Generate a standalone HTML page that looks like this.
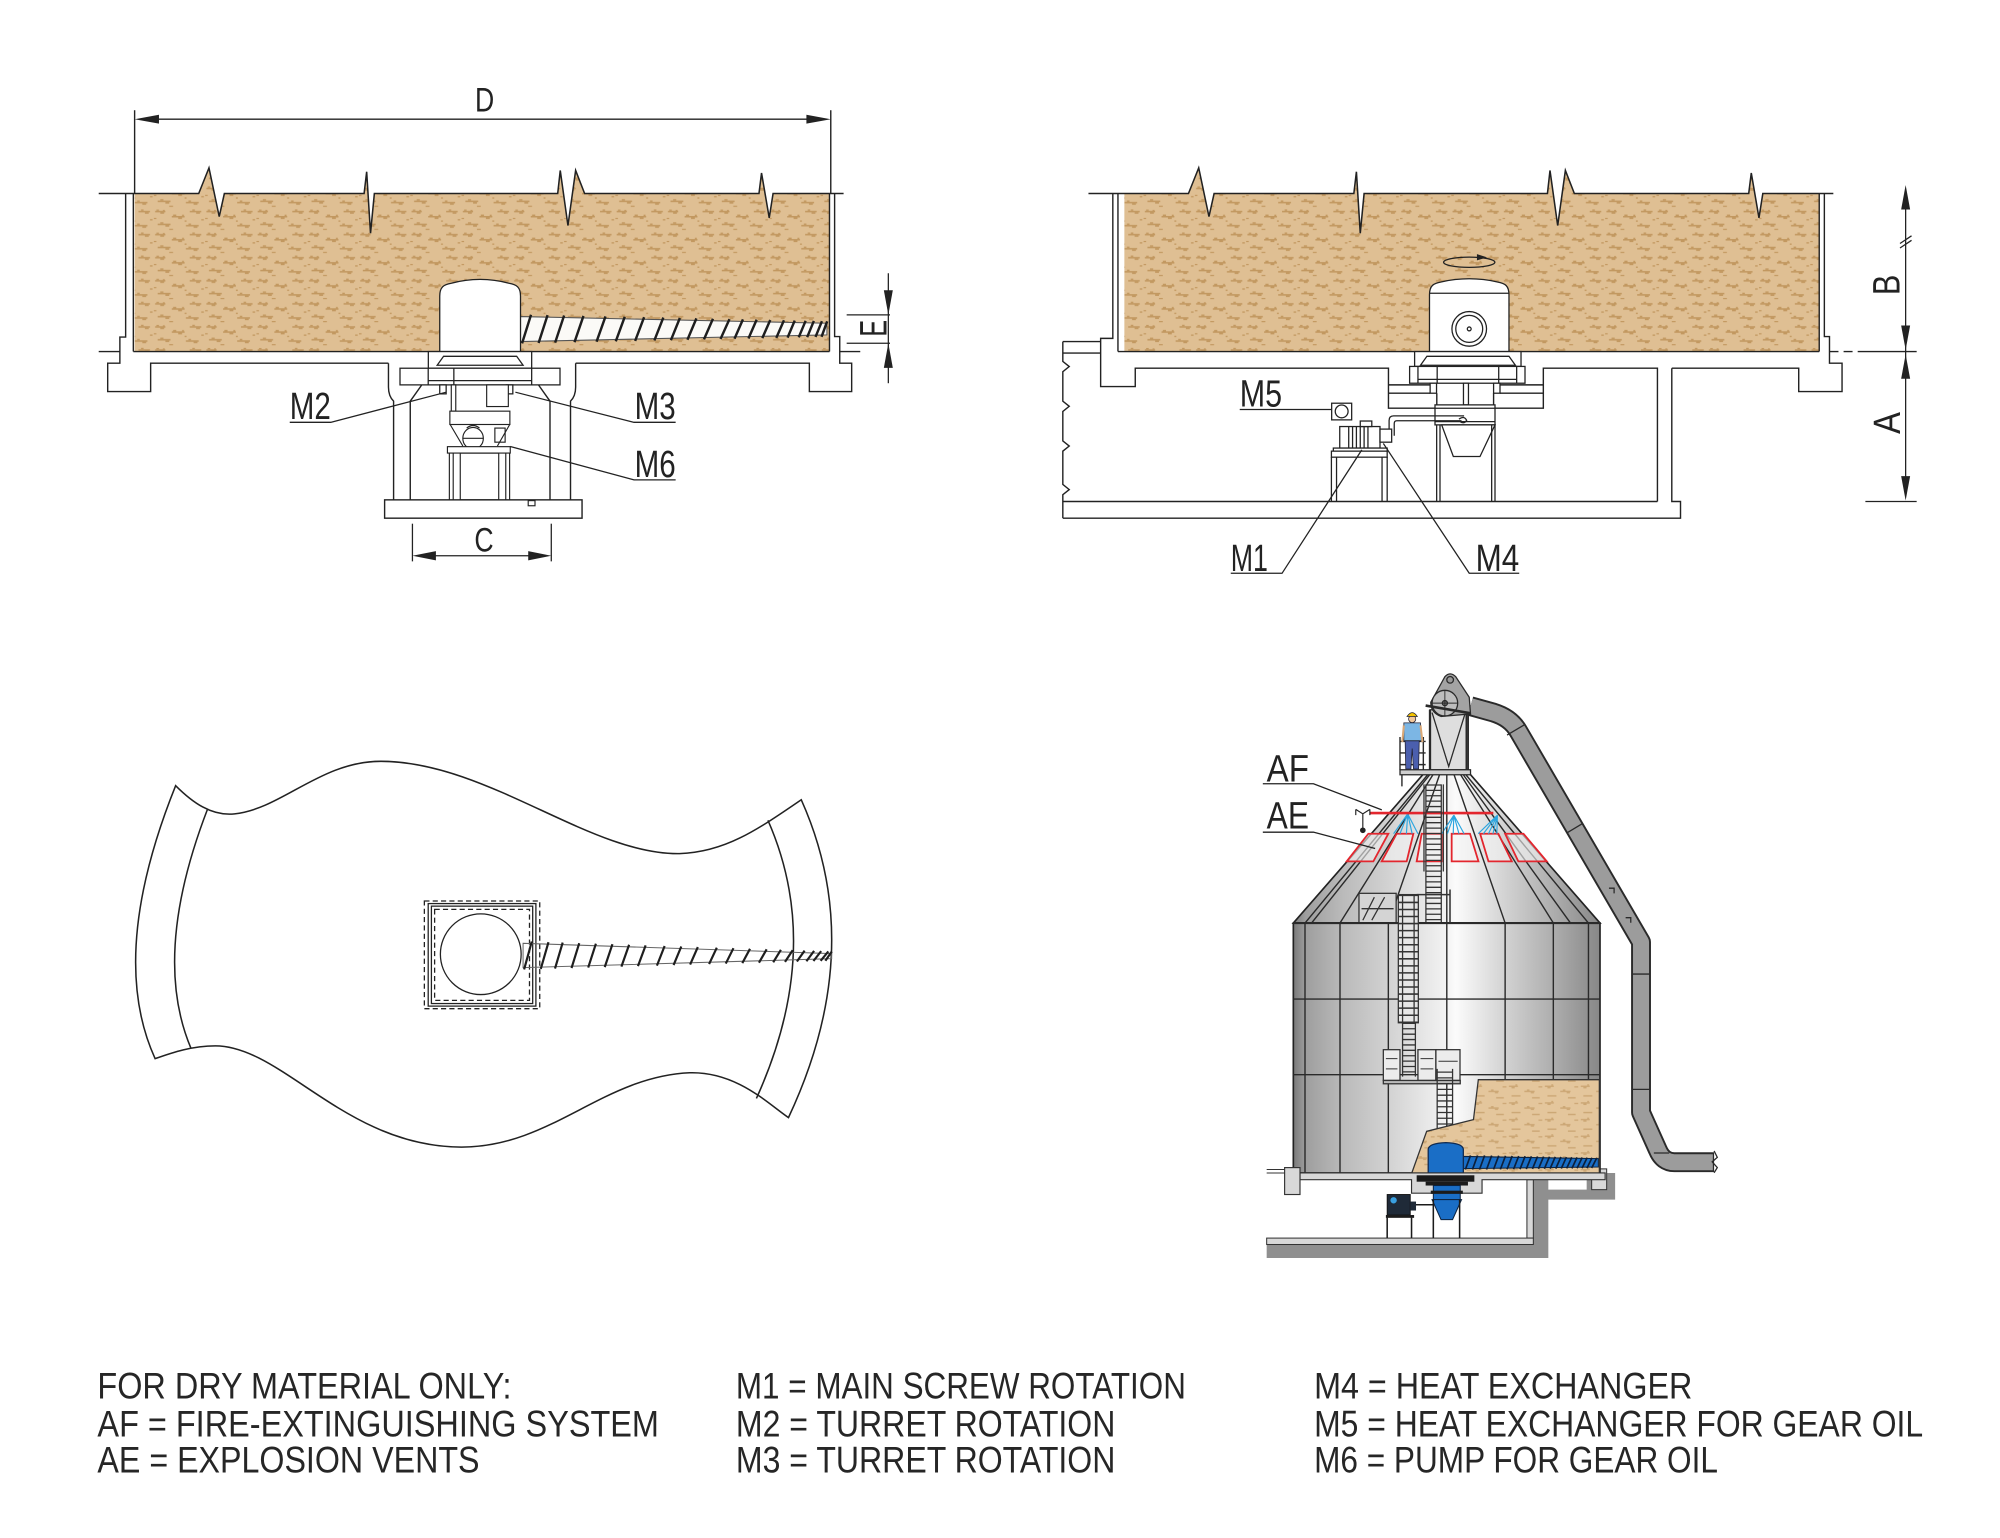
<!DOCTYPE html>
<html><head><meta charset="utf-8"><title>Silo discharge diagram</title>
<style>
html,body{margin:0;padding:0;background:#fff;width:2000px;height:1538px;overflow:hidden}
svg{display:block}
</style></head><body>
<svg xmlns="http://www.w3.org/2000/svg" width="2000" height="1538" viewBox="0 0 1560 1200" preserveAspectRatio="none" font-family="'Liberation Sans', Arial, sans-serif">
<defs>
 <pattern id="mat" width="40" height="18" patternUnits="userSpaceOnUse">
  <rect width="40" height="18" fill="#dfbf93"/>
  <g fill="#c29860">
   <rect x="1" y="2.5" width="8" height="1.2"/><rect x="2" y="1.5" width="2" height="1"/><rect x="5" y="3.5" width="3" height="1.3"/><rect x="7" y="1.8" width="1.5" height="1"/>
   <rect x="14" y="6.5" width="10" height="1.2"/><rect x="15" y="5.4" width="2.5" height="1.2"/><rect x="19" y="7.6" width="3" height="1.3"/><rect x="22" y="5.5" width="1.5" height="1"/>
   <rect x="28" y="2.5" width="9" height="1.2"/><rect x="30" y="1.4" width="2" height="1.1"/><rect x="33" y="3.6" width="3" height="1.2"/>
   <rect x="3" y="12.5" width="10" height="1.2"/><rect x="5" y="11.4" width="2.5" height="1.1"/><rect x="9" y="13.6" width="3" height="1.3"/>
   <rect x="25" y="13.5" width="10" height="1.2"/><rect x="27" y="12.4" width="2" height="1.1"/><rect x="31" y="14.6" width="3" height="1.2"/>
   <rect x="37" y="9" width="2" height="1"/><rect x="12" y="16.5" width="3" height="0.9"/><rect x="0" y="8" width="2" height="0.9"/><rect x="24" y="10" width="1.5" height="1"/>
  </g>
 </pattern>
 <pattern id="mat2" width="28" height="13" patternUnits="userSpaceOnUse">
  <rect width="28" height="13" fill="#e4c69c"/>
  <g fill="#cca775">
   <rect x="1" y="2" width="7" height="1.1"/><rect x="3" y="3" width="2.5" height="1.2"/><rect x="6" y="1" width="1.5" height="1"/>
   <rect x="13" y="6" width="8" height="1.1"/><rect x="15" y="5" width="2" height="1.1"/><rect x="18" y="7" width="2.5" height="1.1"/>
   <rect x="3" y="9.5" width="7" height="1.1"/><rect x="19" y="11" width="6" height="1.1"/><rect x="24" y="2.5" width="3" height="1"/>
  </g>
 </pattern>
 <linearGradient id="cyl" gradientUnits="userSpaceOnUse" x1="1008.8" y1="0" x2="1248" y2="0">
  <stop offset="0" stop-color="#7a7a7a"/>
  <stop offset="0.04" stop-color="#9e9e9e"/>
  <stop offset="0.16" stop-color="#bababa"/>
  <stop offset="0.31" stop-color="#d2d2d2"/>
  <stop offset="0.5" stop-color="#f3f3f3"/>
  <stop offset="0.53" stop-color="#fbfbfb"/>
  <stop offset="0.7" stop-color="#d0d0d0"/>
  <stop offset="0.85" stop-color="#adadad"/>
  <stop offset="1" stop-color="#878787"/>
 </linearGradient>
</defs>
<rect width="1560" height="1200" fill="#fff"/>

<!-- ================= TOP LEFT ================= -->
<g id="topmat">
 <path d="M105,151 L155,151 L163,131 L171,169 L175,151 L284,151 L286,134 L289,182 L292,151 L435,151 L437,133 L443,176 L449,133 L456,151 L592,151 L594,135 L600,170 L603,151 L647,151 L647,274.3 L105,274.3 Z" fill="url(#mat)"/>
 <path d="M77,151 L155,151 L163,131 L171,169 L175,151 L284,151 L286,134 L289,182 L292,151 L435,151 L437,133 L443,176 L449,133 L456,151 L592,151 L594,135 L600,170 L603,151 L658,151" fill="none" stroke="#222" stroke-width="1.2"/>
</g>
<g transform="translate(772,0)">
 <path d="M105,151 L155,151 L163,131 L171,169 L175,151 L284,151 L286,134 L289,182 L292,151 L435,151 L437,133 L443,176 L449,133 L456,151 L592,151 L594,135 L600,170 L603,151 L647,151 L647,274.3 L105,274.3 Z" fill="url(#mat)"/>
 <path d="M77,151 L155,151 L163,131 L171,169 L175,151 L284,151 L286,134 L289,182 L292,151 L435,151 L437,133 L443,176 L449,133 L456,151 L592,151 L594,135 L600,170 L603,151 L658,151" fill="none" stroke="#222" stroke-width="1.2"/>
</g>

<g fill="none" stroke="#222" stroke-width="1.1">
 <line x1="105" y1="86" x2="105" y2="151"/>
 <line x1="648" y1="86" x2="648" y2="151"/>
 <line x1="110" y1="93" x2="643" y2="93"/>
 <path d="M98,151 V263 H93.5 V283.4 H84 V305.5 H117.5 V283.4 H303"/>
 <line x1="104" y1="151" x2="104" y2="274.3"/>
 <line x1="77" y1="274.3" x2="93.5" y2="274.3"/>
 <line x1="104" y1="274.3" x2="647" y2="274.3"/>
 <line x1="647" y1="151" x2="647" y2="274.3"/>
 <path d="M651,151 V262.6 H655 V283.4 H664.3 V305.5 H631.3 V283.4 H449"/>
 <line x1="655" y1="274.3" x2="671" y2="274.3"/>
 <path d="M303,283.4 V302 Q303,309 307,313 V390"/>
 <path d="M449,283.4 V302 Q449,309 445,313 V390"/>
 <path d="M329,300.3 L320,313 V390"/>
 <path d="M420,300.3 L429,313 V390"/>
 <rect x="300" y="390" width="154" height="14.3" fill="#fff"/>
</g>
<g fill="#222">
 <path d="M105,93 L124,89.5 L124,96.5 Z"/>
 <path d="M648,93 L629,89.5 L629,96.5 Z"/>
</g>
<text x="378" y="87" font-size="27" text-anchor="middle" fill="#222" textLength="15" lengthAdjust="spacingAndGlyphs">D</text>

<!-- screw top-left -->
<path d="M406,247 L645,252.2 L645,261.3 L406,266.5 Z" fill="#fbfaf7" stroke="#555" stroke-width="0.8"/>
<path d="M407.2,267.9 L414.2,245.6 M420.1,267.6 L427.1,245.9 M433,267.3 L440,246.2 M448.1,267 L455.1,246.5 M465.3,266.6 L472.3,246.9 M480.3,266.3 L487.3,247.2 M495.4,266 L502.4,247.5 M510.4,265.6 L517.4,247.8 M523.3,265.4 L530.3,248.1 M536.2,265.1 L543.2,248.4 M549.1,264.8 L556.1,248.7 M562,264.5 L569,249 M572.9,264.3 L579.5,249.2 M583.8,264.1 L590.2,249.4 M594.6,263.8 L600.8,249.7 M605.5,263.6 L611.5,249.9 M614.3,263.4 L619.9,250.1 M623,263.2 L628.4,250.3 M629.6,263.1 L634.8,250.4 M636.1,262.9 L641.1,250.6 M640.8,262.8 L645.2,250.7" fill="none" stroke="#1e1e1e" stroke-width="1.9"/>

<!-- turret top-left -->
<g stroke="#222" stroke-width="1" fill="#fff">
 <path d="M343,274.3 V231 C343,224 346,222 352,221 Q374.5,215 397,221 C403,222 406,224 406,231 V274.3 Z"/>
 <rect x="334.1" y="274.3" width="80.6" height="13"/>
 <path d="M346,278 H403 L408,285 H341 Z"/>
 <rect x="312" y="287.3" width="124.8" height="13"/>
 <path d="M334,287.3 V300.3 M354,287.3 V300.3 M414.7,287.3 V300.3 M334,297 H415" fill="none"/>
 <rect x="343" y="300.3" width="5" height="7"/>
 <rect x="395" y="300.3" width="5" height="7"/>
</g>
<g stroke="#222" stroke-width="0.9" fill="none">
 <rect x="352" y="300.3" width="3.5" height="20.5" fill="#fff"/>
 <rect x="379.6" y="300.3" width="16.9" height="16.9" fill="#fff"/>
 <rect x="350.9" y="320.8" width="46.8" height="10.4" fill="#fff"/>
 <path d="M351,331 L361,348 M397.7,331 L388,348"/>
 <ellipse cx="369" cy="342" rx="8" ry="8.5" fill="#fff"/>
 <line x1="361" y1="342" x2="377" y2="342"/>
 <path d="M364,334 Q369,330 374,334"/>
 <rect x="386" y="334" width="8" height="11"/>
 <rect x="349" y="348.5" width="49" height="5" fill="#fff"/>
 <line x1="350.5" y1="353.5" x2="350.5" y2="390"/>
 <line x1="353.5" y1="353.5" x2="353.5" y2="390"/>
 <line x1="394.5" y1="353.5" x2="394.5" y2="390"/>
 <line x1="397.5" y1="353.5" x2="397.5" y2="390"/>
 <rect x="359" y="353.5" width="30" height="36.5"/>
 <rect x="412" y="390.6" width="5.3" height="4"/>
</g>

<g fill="none" stroke="#222" stroke-width="1">
 <path d="M226,329.5 H258 L348,306"/>
 <path d="M527,329.5 H494.5 L402,306"/>
 <path d="M527,374.4 H494.5 L398,348.4"/>
</g>
<g fill="#222" font-size="29.5">
 <text x="226" y="327" textLength="32" lengthAdjust="spacingAndGlyphs">M2</text>
 <text x="495" y="327" textLength="32" lengthAdjust="spacingAndGlyphs">M3</text>
 <text x="495" y="372" textLength="32" lengthAdjust="spacingAndGlyphs">M6</text>
</g>

<g stroke="#222" stroke-width="1" fill="none">
 <line x1="321.7" y1="408.6" x2="321.7" y2="438"/>
 <line x1="430" y1="408.6" x2="430" y2="438"/>
 <line x1="326" y1="433.6" x2="426" y2="433.6"/>
</g>
<g fill="#222">
 <path d="M321.7,433.6 L340,430 L340,437.2 Z"/>
 <path d="M430,433.6 L412,430 L412,437.2 Z"/>
</g>
<text x="377.5" y="430.4" font-size="27" text-anchor="middle" fill="#222" textLength="15" lengthAdjust="spacingAndGlyphs">C</text>

<g stroke="#222" stroke-width="1" fill="none">
 <line x1="692.9" y1="213.2" x2="692.9" y2="299"/>
 <line x1="660.4" y1="245.7" x2="694.2" y2="245.7"/>
 <line x1="660.4" y1="267.8" x2="694.2" y2="267.8"/>
</g>
<g fill="#222">
 <path d="M692.9,245.7 L689.4,226.5 L696.4,226.5 Z"/>
 <path d="M692.9,267.8 L689.4,287 L696.4,287 Z"/>
</g>
<text transform="translate(691.6,256.1) rotate(-90)" font-size="29.5" text-anchor="middle" fill="#222" textLength="13" lengthAdjust="spacingAndGlyphs">E</text>

<!-- ================= TOP RIGHT ================= -->
<g fill="none" stroke="#222" stroke-width="1.1">
 <line x1="872" y1="151" x2="872" y2="274.3"/>
 <path d="M868,151 V264 H858.5 V301.6 H885.5 V287.3 H1083 V318.5 H1120.7"/>
 <path d="M1165,318.5 H1203.8 V287.3 H1292.8 V391.3"/>
 <path d="M1304,287.3 V391.3 H1310.8 V404.3 H829"/>
 <line x1="829" y1="391.3" x2="1292.8" y2="391.3"/>
 <path d="M829,266.5 H858.5 M829,275.5 H858.5"/>
 <path d="M829,266.5 V282 L834,286 L829,290 V313 L834,317 L829,321 V344 L834,348 L829,352 V378 L834,382 L829,386 V404.3"/>
 <line x1="872" y1="274.3" x2="1419" y2="274.3"/>
 <line x1="1419" y1="151" x2="1419" y2="274.3"/>
 <path d="M1423,151 V262.6 H1427 V283.4 H1436.8 V305.5 H1403 V287.3 H1304"/>
 <line x1="1427" y1="274.3" x2="1450" y2="274.3" stroke-dasharray="7 4"/>
 <path d="M1083,300.3 H1115.5 M1083,306.8 H1115.5 M1170,300.3 H1203.8 M1170,306.8 H1203.8 M1120.7,306.8 V318.5 M1165,306.8 V318.5"/>
</g>

<g stroke="#222" stroke-width="1" fill="#fff">
 <path d="M1115,274.3 V230 C1115,223 1118,221 1124,220 Q1146,215 1168,220 C1174,221 1177,223 1177,230 V274.3 Z"/>
 <line x1="1115" y1="228.8" x2="1177" y2="228.8"/>
 <circle cx="1146" cy="256.6" r="13.5"/>
 <circle cx="1146" cy="256.6" r="10.5"/>
 <circle cx="1146" cy="256.6" r="1.5"/>
 <rect x="1103.4" y="274.3" width="83" height="11.6"/>
 <path d="M1113,278 H1177 L1182,285 H1108 Z"/>
 <rect x="1099.5" y="285.9" width="90" height="13.1"/>
 <path d="M1106,285.9 V299 M1121,285.9 V299 M1169,285.9 V299 M1183,285.9 V299 M1106,296 H1183" fill="none"/>
 <rect x="1115.5" y="299" width="5" height="7.8"/>
 <rect x="1165" y="299" width="5" height="7.8"/>
 <rect x="1141.5" y="299" width="3.9" height="16.9"/>
 <rect x="1119.3" y="315.9" width="46.8" height="15.6"/>
 <path d="M1119.3,318.5 H1166.1 M1119.3,329 H1166.1" fill="none"/>
 <path d="M1124.5,331.5 H1166.1 L1154.4,356.2 H1133.6 Z"/>
</g>
<ellipse cx="1146" cy="204.6" rx="20" ry="4" fill="none" stroke="#222" stroke-width="1"/>
<path d="M1152,198.3 L1160,200.8 L1152,203.2 Z" fill="#222"/>
<g stroke="#222" stroke-width="1" fill="none">
 <path d="M1120.6,331.5 V391.3 M1123.2,331.5 V391.3 M1163.5,331.5 V391.3 M1166.1,331.5 V391.3"/>
 <path d="M1083.5,340 V328 Q1083.5,324.5 1087,324.5 H1142 M1087.5,340 V330.5 Q1087.5,328.3 1089.5,328.3 H1140"/>
 <path d="M1138,327 q4,-3 6,1 q-2,3 -5,1"/>
 <rect x="1038.7" y="314.6" width="15.6" height="13" fill="#fff"/>
 <circle cx="1046.5" cy="321" r="5"/>
 <rect x="1045" y="332.8" width="31.4" height="16.8" fill="#fff"/>
 <path d="M1052,333 V349.6 M1055,333 V349.6 M1058,333 V349.6 M1061,333 V349.6 M1064,333 V349.6 M1067,333 V349.6"/>
 <rect x="1061" y="328.5" width="9" height="4.3" fill="#fff"/>
 <rect x="1076.4" y="334.8" width="9.1" height="10.2" fill="#fff"/>
 <rect x="1040" y="349.6" width="42" height="2.4" fill="#fff"/>
 <rect x="1038.5" y="352" width="43.5" height="4.7" fill="#fff"/>
 <path d="M1038.5,356.7 V391.3 M1042.5,356.7 V391.3 M1078,356.7 V391.3 M1082,356.7 V391.3"/>
 <path d="M967,319.5 H1038.7"/>
 <path d="M960,447.3 H1000 L1062.2,351"/>
 <path d="M1185,447.3 H1146 L1079,346"/>
</g>
<g fill="#222" font-size="29.5">
 <text x="967" y="317" textLength="33" lengthAdjust="spacingAndGlyphs">M5</text>
 <text x="960" y="445.5" textLength="29" lengthAdjust="spacingAndGlyphs">M1</text>
 <text x="1151" y="445.5" textLength="34" lengthAdjust="spacingAndGlyphs">M4</text>
</g>

<g stroke="#222" stroke-width="1" fill="none">
 <line x1="1486.4" y1="148" x2="1486.4" y2="386"/>
 <line x1="1455" y1="391.3" x2="1495" y2="391.3"/>
 <line x1="1450" y1="274.3" x2="1495" y2="274.3"/>
 <path d="M1482,190 L1491,184 M1482,193.5 L1491,187.5"/>
</g>
<g fill="#222">
 <path d="M1486.4,144.3 L1482.9,163.5 L1489.9,163.5 Z"/>
 <path d="M1486.4,273 L1482.9,254 L1489.9,254 Z"/>
 <path d="M1486.4,276.5 L1482.9,295.5 L1489.9,295.5 Z"/>
 <path d="M1486.4,390.5 L1482.9,371.5 L1489.9,371.5 Z"/>
</g>
<text transform="translate(1481.6,222.3) rotate(-90)" font-size="29.5" text-anchor="middle" fill="#222" textLength="16" lengthAdjust="spacingAndGlyphs">B</text>
<text transform="translate(1482,330) rotate(-90)" font-size="29.5" text-anchor="middle" fill="#222" textLength="17" lengthAdjust="spacingAndGlyphs">A</text>

<!-- ================= BOTTOM LEFT PLAN ================= -->
<g fill="none" stroke="#222" stroke-width="1.2">
 <path d="M137,613 C150,626 165,637 183,635 C220,631 250,594 297,594 C380,594 460,667 530,666 C565,665 590,648 625,624 Q677,740 615,872 C600,862 575,836 538,837 C470,840 430,895 360,895 C270,895 220,816 168,816 C150,816 135,821 121,826 Q84,745 137,613 Z"/>
 <path d="M162,631 Q118,745 149,818"/>
 <path d="M599,640 Q643,740 590,857"/>
</g>
<g fill="none" stroke="#222" stroke-width="1">
 <rect x="331" y="703" width="90" height="84" stroke-dasharray="4 2.5"/>
 <rect x="334" y="705" width="84" height="80"/>
 <rect x="336.5" y="707" width="79" height="76"/>
 <rect x="339" y="709.5" width="74" height="71" stroke-dasharray="4 2.5"/>
 <circle cx="375" cy="744.5" r="31.5"/>
 <path d="M408,736 L648.7,744 L648.7,748 L408,755 Z" stroke="#666" stroke-width="0.8"/>
</g>
<path d="M408.8,756.4 L414.8,734.6 M421.8,756 L427.8,735.1 M432.9,755.7 L438.9,735.4 M445.8,755.3 L451.8,735.9 M458.8,754.9 L464.8,736.3 M471.7,754.6 L477.7,736.7 M484.7,754.2 L490.7,737.1 M497.6,753.8 L503.6,737.6 M512.4,753.4 L518.4,738.1 M525.4,753 L531.4,738.5 M538.3,752.6 L544.3,738.9 M553.1,752.2 L559.1,739.4 M566.1,751.8 L572.1,739.8 M579,751.5 L585,740.3 M592,751.1 L598,740.7 M603.1,750.8 L609.1,741.1 M612.3,750.5 L618.3,741.4 M621.6,750.2 L627.6,741.7 M629,750 L635,741.9 M634.5,749.8 L640.5,742.1 M640.1,749.7 L646.1,742.3 M643.8,749.6 L648.8,742.4" fill="none" stroke="#1e1e1e" stroke-width="1.7"/>

<!-- ================= SILO ================= -->
<path d="M988,971 H1196 V920.4 H1207.7 V928.2 H1237.6 V915.2 H1259.8 V936 H1207.7 V981.5 H988 Z" fill="#8f8f8f"/>
<g stroke="#333" stroke-width="0.8" fill="#d8d8d8">
 <rect x="1191" y="920.4" width="5" height="45.6"/>
 <rect x="988" y="966" width="208" height="5"/>
 <rect x="1241.5" y="912" width="11.7" height="16.2"/>
</g>

<path d="M1147,551 L1165,556 Q1178,560 1184,570 L1280,735 L1280,868 L1293,897 Q1297,906.8 1306,906.8 L1337,906.8" fill="none" stroke="#2a2a2a" stroke-width="15.5" stroke-linejoin="round"/>
<path d="M1147,551 L1165,556 Q1178,560 1184,570 L1280,735 L1280,868 L1293,897 Q1297,906.8 1306,906.8 L1336,906.8" fill="none" stroke="#9c9c9c" stroke-width="12.5" stroke-linejoin="round"/>
<g stroke="#2a2a2a" stroke-width="1" fill="none">
 <path d="M1337,898 L1339.5,903 L1335.5,906.5 L1339.5,911 L1337,915"/>
 <path d="M1175.5,573.5 L1189,565.5 M1222,650 L1234.5,642.5 M1272.8,760 L1287,760 M1272.8,850 L1287,850 M1290,899.6 L1302,899.6"/>
 <path d="M1255,693 h4 v4 M1268,716 h4 v4"/>
</g>

<polygon points="1008.8,720.2 1110.2,604 1146.6,604 1248,720.2" fill="url(#cyl)" stroke="#222" stroke-width="1.3"/>
<g stroke="#2a2a2a" stroke-width="1.1">
 <line x1="1114" y1="604" x2="1017.9" y2="720.2"/>
 <line x1="1115.5" y1="604" x2="1023" y2="720.2"/>
 <line x1="1118" y1="604" x2="1045.2" y2="720.2"/>
 <line x1="1123" y1="604" x2="1082.9" y2="720.2"/>
 <line x1="1128.5" y1="604" x2="1128.5" y2="720.2"/>
 <line x1="1134" y1="604" x2="1174" y2="720.2"/>
 <line x1="1139" y1="604" x2="1211.6" y2="720.2"/>
 <line x1="1141" y1="604" x2="1225" y2="720.2"/>
 <line x1="1143" y1="604" x2="1239" y2="720.2"/>
</g>
<g fill="#f4f4f4" fill-opacity="0.6" stroke="#e3262e" stroke-width="1.4">
 <polygon points="1067.3,650.5 1082.9,650.5 1071.2,672.1 1050.4,672.1"/>
 <polygon points="1089.4,650.5 1102.4,650.5 1097.2,672.1 1077.7,672.1"/>
 <polygon points="1108.9,650.5 1124.5,650.5 1124.5,672.1 1105,672.1"/>
 <polygon points="1132.3,650.5 1146.6,650.5 1153.2,672.1 1132.3,672.1"/>
 <polygon points="1154.5,650.5 1168.7,650.5 1179.2,672.1 1161,672.1"/>
 <polygon points="1174,650.5 1188.3,650.5 1206.5,672.1 1184.3,672.1"/>
</g>
<g stroke="#2ba6e0" stroke-width="0.9">
 <path d="M1098,635 L1087,650.5 M1098,635 L1092,650.5 M1098,635 L1097,650.5 M1098,635 L1101.5,650.5 M1098,635 L1106,650.5"/>
 <path d="M1134,636 L1124.5,650.5 M1134,636 L1129,650.5 M1134,636 L1133.5,650.5 M1134,636 L1138,650.5 M1134,636 L1142,650.5"/>
 <path d="M1168,636 L1153,650.5 M1168,636 L1157,650.5 M1168,636 L1161,650.5 M1168,636 L1164.5,650.5 M1168,636 L1167.5,650.5"/>
</g>
<line x1="1068.6" y1="634.4" x2="1164.8" y2="634.4" stroke="#e3262e" stroke-width="2"/>
<g stroke="#222" stroke-width="0.9" fill="none">
 <path d="M1057.5,631.5 L1063,635 L1068.5,631.5 M1057.5,631.5 V636 M1068.5,631.5 V636 M1063,635 V646"/>
</g>
<circle cx="1063" cy="647.8" r="2.2" fill="#222"/>

<g stroke="#333" fill="none">
 <line x1="1118.2" y1="612" x2="1118.2" y2="720" stroke-width="12" stroke-dasharray="1 3.2"/>
 <path d="M1112.2,612 V720 M1124.2,612 V720 M1110.7,612 V680 M1125.8,612 V680" stroke-width="1"/>
</g>
<g stroke="#333" stroke-width="1" fill="#d4d4d4">
 <rect x="1060" y="697" width="29" height="24"/>
 <path d="M1063,718 L1072,700 M1070,718 L1080,700 M1062,709 H1087" fill="none"/>
</g>

<rect x="1008.8" y="720.2" width="239.2" height="195" fill="url(#cyl)" stroke="#222" stroke-width="1.3"/>
<g stroke="#2a2a2a" stroke-width="1.1">
 <line x1="1017.9" y1="720.2" x2="1017.9" y2="915.2"/>
 <line x1="1045.2" y1="720.2" x2="1045.2" y2="915.2"/>
 <line x1="1082.9" y1="720.2" x2="1082.9" y2="915.2"/>
 <line x1="1128.5" y1="720.2" x2="1128.5" y2="915.2"/>
 <line x1="1174" y1="720.2" x2="1174" y2="915.2"/>
 <line x1="1211.6" y1="720.2" x2="1211.6" y2="915.2"/>
 <line x1="1239" y1="720.2" x2="1239" y2="915.2"/>
 <line x1="1008.8" y1="779.5" x2="1248" y2="779.5"/>
 <line x1="1008.8" y1="838.5" x2="1248" y2="838.5"/>
 <line x1="1008.8" y1="720.2" x2="1248" y2="720.2" stroke-width="1.6"/>
</g>
<g stroke="#333" fill="none">
 <rect x="1090.7" y="698" width="15.6" height="100" fill="#e6e6e6" stroke-width="1"/>
 <line x1="1098.5" y1="698" x2="1098.5" y2="798" stroke-width="15.6" stroke-dasharray="1.2 4.3"/>
 <path d="M1094,698 V798 M1103,698 V798" stroke-width="1"/>
 <path d="M1094,798 V840 M1104,798 V840" stroke-width="1"/>
 <line x1="1099" y1="798" x2="1099" y2="840" stroke-width="10" stroke-dasharray="1 3.2"/>
 <path d="M1105,698 H1131 M1131,694 V720" stroke-width="1.2"/>
 <rect x="1079" y="819" width="13" height="24" fill="#ececec" stroke-width="1"/>
 <rect x="1106" y="819" width="14" height="24" fill="#ececec" stroke-width="1"/>
 <rect x="1120" y="819" width="18.8" height="24" fill="#ececec" stroke-width="1"/>
 <path d="M1081,826 H1090 M1081,834 H1090 M1108,826 H1118 M1108,834 H1118 M1122,828 H1137" stroke-width="0.8"/>
 <rect x="1079" y="843" width="60" height="2.6" fill="#bbb" stroke-width="1"/>
 <path d="M1121,834 V881 M1133,834 V881" stroke-width="1"/>
 <line x1="1127" y1="836" x2="1127" y2="880" stroke-width="12" stroke-dasharray="1 3.5"/>
</g>

<path d="M1153.1,842.4 L1247.5,842.4 L1247.5,915.2 L1101.2,915.2 L1112.8,882.7 L1149.3,873.6 Z" fill="url(#mat2)" stroke="#333" stroke-width="1"/>
<path d="M1141.4,902.3 L1246.7,904 L1246.7,910.5 L1141.4,911.8 Z" fill="#1a6ec6" stroke="#0c2340" stroke-width="0.8"/>
<path d="M1143,912.5 L1147,901.5 M1148.5,912.5 L1152.5,901.5 M1154,912.5 L1158,901.5 M1159.5,912.5 L1163.5,901.6 M1165,912.4 L1169,901.7 M1170.3,912.4 L1174.3,901.8 M1175.5,912.3 L1179.5,901.9 M1180.6,912.2 L1184.6,902 M1185.6,912.2 L1189.6,902.1 M1190.5,912.1 L1194.5,902.2 M1195.3,912 L1199.3,902.3 M1200,912 L1204,902.4 M1204.6,911.9 L1208.6,902.5 M1209.1,911.8 L1213.1,902.6 M1213.5,911.8 L1217.5,902.7 M1217.8,911.7 L1221.8,902.8 M1222,911.6 L1226,902.9 M1226.1,911.6 L1230.1,903 M1230.1,911.5 L1234.1,903.1 M1234,911.4 L1238,903.2 M1237.8,911.4 L1241.8,903.3 M1241.5,911.3 L1245.5,903.4" fill="none" stroke="#0c1f3a" stroke-width="1.3"/>
<path d="M1114,915.2 V897 Q1114,892 1127.8,891.5 Q1141.4,892 1141.4,897 V915.2 Z" fill="#1a6ec6" stroke="#102a50" stroke-width="1"/>

<g stroke="#333" stroke-width="0.9" fill="#d8d8d8">
 <path d="M1014,915.2 H1252 V920.4 H1156 V931 H1101 V920.4 H1014 Z"/>
 <rect x="1002" y="911" width="12" height="21"/>
</g>
<path d="M988,912.5 H1002 M988,915.2 H1002" stroke="#333" stroke-width="0.8"/>
<rect x="1105" y="917" width="45" height="5" fill="#1b1b1b"/>
<rect x="1112" y="922" width="33" height="3" fill="#1b1b1b"/>
<rect x="1118" y="925" width="21" height="11" fill="#1a6ec6" stroke="#0c2340" stroke-width="0.8"/>
<rect x="1116" y="929" width="25" height="2.5" fill="#1b1b1b"/>
<polygon points="1117,936 1140,936 1133,951.6 1124,951.6" fill="#1a6ec6" stroke="#0c2340" stroke-width="0.8"/>
<g stroke="#1b1b1b" stroke-width="1.2" fill="none">
 <path d="M1118,936 V966 M1138.5,936 V966"/>
 <path d="M1104,940 H1118"/>
 <path d="M1082,950 V966 M1101,950 V966"/>
</g>
<rect x="1082" y="932" width="18" height="16" fill="#1f2a38" stroke="#111" stroke-width="0.7"/>
<circle cx="1087" cy="936.5" r="2.5" fill="#3aa0e0"/>
<rect x="1100" y="937.5" width="4.5" height="7" fill="#1f2a38"/>
<rect x="1081" y="948" width="22" height="2.2" fill="#1b1b1b"/>

<g stroke="#2a2a2a" stroke-width="1">
 <path d="M1115.4,553.8 H1145.3 V600.6 H1115.4 Z" fill="#dedede"/>
 <path d="M1117,556 L1130,598 L1143,556" fill="none"/>
 <path d="M1115.4,553.8 V600.6 M1144,553.8 V600.6" stroke-width="1.8" fill="none"/>
 <path d="M1116,548 L1127,528 Q1131,523.5 1135.5,528 L1146,544 L1147,557 L1124,559 Q1116,556 1116,548 Z" fill="#a3a3a3"/>
 <circle cx="1127" cy="548.6" r="10" fill="#bdbdbd"/>
 <circle cx="1127" cy="548.6" r="2" fill="#777"/>
 <path d="M1127,538.6 V558.6 M1117,548.6 H1137" fill="none" stroke-width="0.7"/>
 <circle cx="1131.1" cy="530.4" r="2.6" fill="#999"/>
 <line x1="1112" y1="550.5" x2="1146.6" y2="556.4" stroke-width="2"/>
 <rect x="1092" y="600.6" width="55" height="3.9" fill="#cfcfcf"/>
 <path d="M1093.5,604.5 V613.6 M1092,575 V600.6 M1110.2,575 V600.6 M1092,578.5 H1112 M1092,587.5 H1112 M1092,596.6 H1112" fill="none" stroke-width="1.1"/>
</g>
<g stroke="#223" stroke-width="0.6">
 <path d="M1095,564 H1108 L1109,578 H1095 Z" fill="#7cb6e4"/>
 <path d="M1096,578 H1107 L1106.5,600 H1102.5 L1101.5,584 L1100.5,600 H1096.5 Z" fill="#4b5fae"/>
 <circle cx="1101.5" cy="561" r="2.8" fill="#f2c79a"/>
 <path d="M1097.5,559 Q1101.5,553 1105.5,559 Z" fill="#f5c400"/>
 <path d="M1095,566 L1093.8,579 M1108,566 L1109.5,579" stroke="#d9a877" stroke-width="1.6"/>
</g>

<g fill="none" stroke="#222" stroke-width="1">
 <path d="M985,611.5 H1024.5 L1077.8,631.9"/>
 <path d="M985,649.3 H1024.5 L1072.6,662"/>
</g>
<g fill="#222" font-size="29.5">
 <text x="988" y="609.7" textLength="33" lengthAdjust="spacingAndGlyphs">AF</text>
 <text x="988" y="646.3" textLength="33" lengthAdjust="spacingAndGlyphs">AE</text>
</g>

<!-- ================= LEGEND ================= -->
<g fill="#262626" font-size="29">
 <text x="76" y="1091.3" textLength="323" lengthAdjust="spacingAndGlyphs">FOR DRY MATERIAL ONLY:</text>
 <text x="76" y="1120.9" textLength="438" lengthAdjust="spacingAndGlyphs">AF = FIRE-EXTINGUISHING SYSTEM</text>
 <text x="76" y="1149" textLength="298" lengthAdjust="spacingAndGlyphs">AE = EXPLOSION VENTS</text>
 <text x="574" y="1091.3" textLength="351" lengthAdjust="spacingAndGlyphs">M1 = MAIN SCREW ROTATION</text>
 <text x="574" y="1120.9" textLength="296" lengthAdjust="spacingAndGlyphs">M2 = TURRET ROTATION</text>
 <text x="574" y="1149" textLength="296" lengthAdjust="spacingAndGlyphs">M3 = TURRET ROTATION</text>
 <text x="1025" y="1091.3" textLength="295" lengthAdjust="spacingAndGlyphs">M4 = HEAT EXCHANGER</text>
 <text x="1025" y="1120.9" textLength="475" lengthAdjust="spacingAndGlyphs">M5 = HEAT EXCHANGER FOR GEAR OIL</text>
 <text x="1025" y="1149" textLength="315" lengthAdjust="spacingAndGlyphs">M6 = PUMP FOR GEAR OIL</text>
</g>
</svg>
</body></html>
